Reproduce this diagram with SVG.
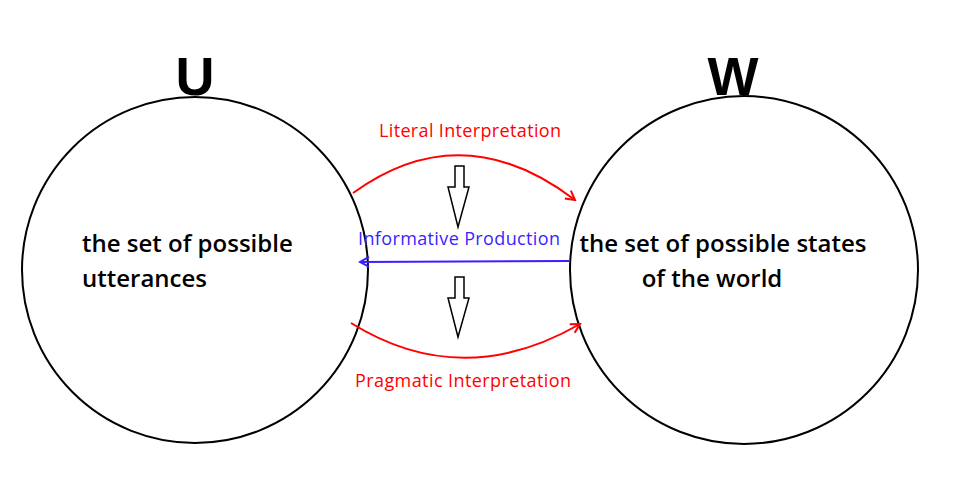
<svg xmlns="http://www.w3.org/2000/svg" width="960" height="496" viewBox="0 0 960 496">
  <style>
    .set { fill: #fff; stroke: #000; stroke-width: 2; }
    .title { font-family: "Liberation Sans", Arial, sans-serif; font-weight: 900; font-size: 54px; fill: #000; text-anchor: middle; }
    .body { font-family: "Open Sans", "Liberation Sans", sans-serif; font-weight: 600; font-size: 24px; fill: #000; }
    .lbl { font-family: "Open Sans", "Liberation Sans", sans-serif; font-size: 18px; }
    .red { stroke: #ff0000; stroke-width: 2; fill: none; }
    .blue { stroke: #3a1fff; stroke-width: 2; fill: none; }
    .block { fill: #fff; stroke: #000; stroke-width: 1.5; stroke-linejoin: miter; }
  </style>
  <defs>
    <marker id="headRed" markerWidth="12" markerHeight="12" refX="10" refY="6" orient="auto" markerUnits="userSpaceOnUse">
      <path d="M1,1 L10,6 L1,11" fill="none" stroke="#ff0000" stroke-width="2"/>
    </marker>
    <marker id="headBlue" markerWidth="12" markerHeight="12" refX="10" refY="6" orient="auto" markerUnits="userSpaceOnUse">
      <path d="M1,1 L10,6 L1,11" fill="none" stroke="#3a1fff" stroke-width="2"/>
    </marker>
  </defs>

  <g id="U">
    <text class="title" x="195" y="95">U</text>
    <circle class="set" cx="195" cy="270" r="173"/>
    <text class="body" x="82" y="252">the set of possible</text>
    <text class="body" x="82" y="287">utterances</text>
  </g>

  <g id="W">
    <text class="title" x="733" y="95">W</text>
    <circle class="set" cx="744" cy="270" r="174"/>
    <text class="body" x="723" y="252" text-anchor="middle">the set of possible states</text>
    <text class="body" x="712" y="287" text-anchor="middle">of the world</text>
  </g>

  <g id="connectors">
    <path class="red" d="M353,193 Q462,114 575,200" marker-end="url(#headRed)"/>
    <text class="lbl" x="379" y="137" fill="#ff0000" textLength="182" lengthAdjust="spacing">Literal Interpretation</text>

    <path class="blue" d="M570,261 L360,262" marker-end="url(#headBlue)"/>
    <text class="lbl" x="358" y="245" fill="#3a1fff" textLength="202" lengthAdjust="spacing">Informative Production</text>

    <path class="red" d="M351,323 Q462,392 580,324" marker-end="url(#headRed)"/>
    <text class="lbl" x="355" y="387" fill="#ff0000" textLength="216" lengthAdjust="spacing">Pragmatic Interpretation</text>
  </g>

  <g id="inference-arrows">
    <path class="block" d="M455,166 L464,166 L464,187 L469,187 L458,227 L448,187 L455,187 Z"/>
    <path class="block" d="M455,277 L464,277 L464,298 L469,298 L458,337 L448,298 L455,298 Z"/>
  </g>
</svg>
